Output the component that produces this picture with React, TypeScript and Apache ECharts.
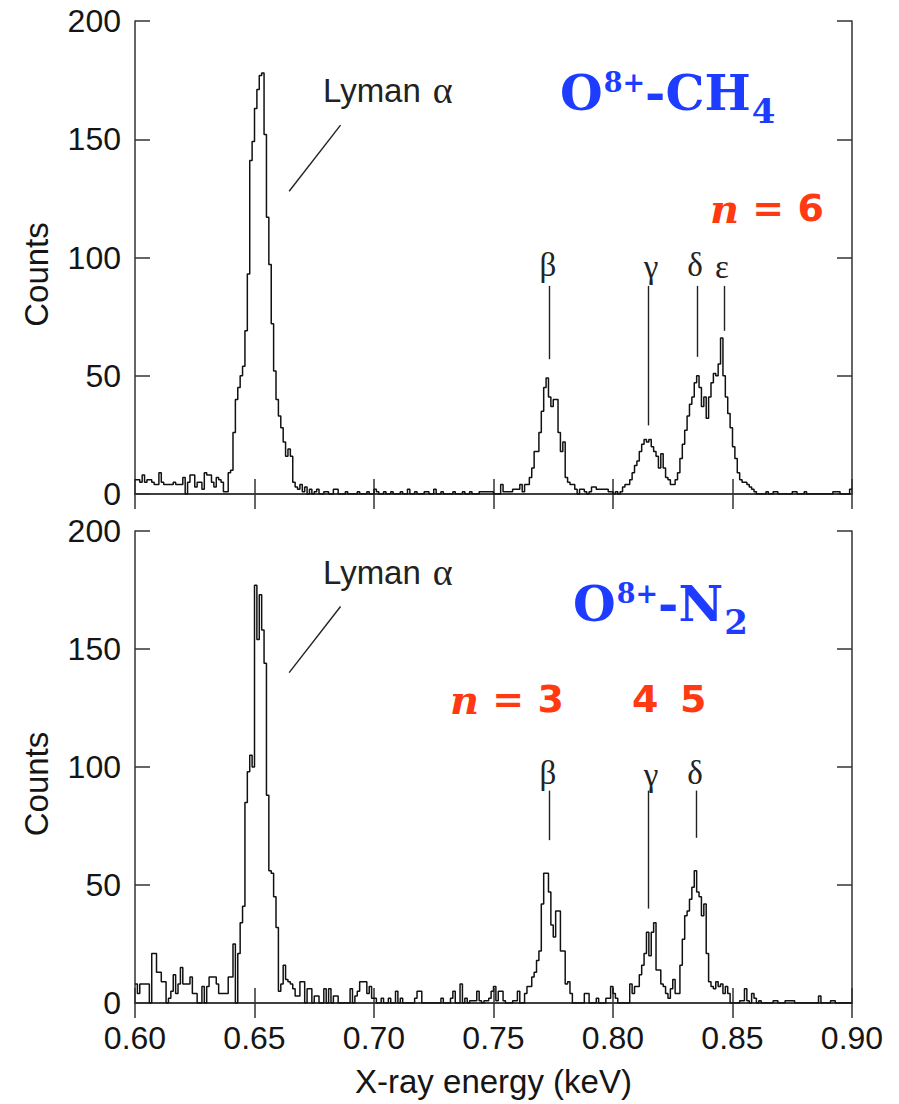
import React, { useEffect, useRef } from "react";
import * as echarts from "echarts";

// Histogram binning (keV)
const E_START = 0.6;
const BIN_WIDTH = 0.001;

// O8+ - CH4 counts per 1 eV bin, 0.600 ... 0.899 keV
const ch4Counts = [
  6, 6, 5, 8, 5, 6, 6, 5, 4, 4,
  9, 5, 4, 4, 4, 4, 5, 4, 4, 4,
  7, 0, 5, 8, 8, 3, 5, 5, 2, 9,
  8, 8, 5, 3, 7, 6, 5, 1, 1, 9,
  10, 26, 40, 45, 50, 54, 69, 93, 141, 149,
  163, 171, 177, 178, 152, 117, 97, 72, 52, 40,
  33, 28, 22, 16, 19, 16, 5, 3, 2, 4,
  1, 3, 0, 2, 0, 1, 2, 0, 0, 1,
  1, 0, 0, 2, 2, 0, 0, 0, 1, 0,
  0, 0, 0, 1, 0, 0, 0, 1, 0, 0,
  2, 1, 0, 0, 1, 0, 0, 1, 0, 0,
  0, 1, 0, 0, 2, 0, 0, 1, 0, 0,
  0, 1, 1, 0, 0, 2, 0, 0, 1, 0,
  0, 0, 0, 1, 0, 0, 0, 1, 0, 0,
  1, 0, 0, 0, 1, 1, 1, 1, 1, 1,
  0, 0, 0, 4, 1, 1, 1, 1, 2, 2,
  2, 4, 1, 4, 4, 7, 11, 18, 18, 26,
  35, 45, 49, 41, 37, 40, 40, 26, 18, 22,
  7, 5, 4, 4, 2, 0, 2, 2, 1, 0,
  1, 3, 3, 2, 2, 2, 2, 2, 1, 1,
  0, 1, 0, 1, 3, 4, 4, 6, 9, 12,
  14, 18, 21, 23, 22, 23, 20, 18, 16, 11,
  17, 11, 7, 6, 4, 4, 6, 9, 15, 21,
  27, 33, 38, 41, 47, 50, 45, 37, 41, 32,
  41, 47, 51, 50, 55, 66, 50, 41, 34, 28,
  20, 15, 9, 6, 5, 5, 4, 3, 2, 1,
  0, 0, 0, 0, 1, 0, 0, 1, 1, 0,
  0, 0, 0, 0, 0, 1, 1, 0, 0, 0,
  1, 0, 0, 0, 0, 0, 0, 0, 0, 0,
  0, 0, 1, 1, 1, 0, 0, 0, 0, 2,
];

// O8+ - N2 counts per 1 eV bin, 0.600 ... 0.899 keV
const n2Counts = [
  8, 4, 8, 8, 8, 8, 0, 21, 21, 13,
  13, 9, 9, 0, 2, 5, 12, 4, 8, 15,
  8, 8, 8, 11, 4, 4, 0, 0, 7, 0,
  7, 11, 11, 11, 8, 4, 4, 4, 4, 11,
  11, 25, 0, 21, 34, 41, 85, 98, 105, 100,
  177, 154, 173, 158, 144, 88, 56, 55, 45, 32,
  5, 8, 16, 10, 9, 8, 6, 3, 3, 9,
  9, 0, 6, 6, 0, 3, 3, 0, 0, 6,
  0, 6, 0, 3, 3, 0, 0, 0, 0, 0,
  6, 0, 3, 5, 9, 9, 9, 4, 7, 2,
  2, 0, 0, 2, 0, 0, 2, 0, 0, 5,
  0, 2, 0, 0, 0, 0, 0, 2, 5, 5,
  0, 0, 0, 0, 0, 0, 0, 0, 2, 0,
  0, 0, 2, 5, 0, 0, 8, 0, 2, 0,
  1, 1, 1, 5, 1, 0, 1, 1, 2, 5,
  7, 1, 5, 5, 1, 0, 0, 0, 1, 1,
  5, 0, 0, 4, 7, 7, 11, 13, 18, 22,
  42, 55, 55, 47, 33, 28, 39, 39, 22, 22,
  8, 9, 4, 0, 0, 0, 0, 0, 4, 4,
  0, 0, 0, 2, 0, 0, 0, 2, 2, 7,
  4, 2, 0, 0, 0, 0, 0, 8, 4, 7,
  7, 12, 16, 21, 30, 20, 30, 34, 14, 14,
  8, 7, 4, 2, 6, 10, 4, 4, 16, 27,
  37, 39, 44, 49, 56, 47, 45, 37, 42, 21,
  9, 7, 6, 9, 7, 8, 4, 7, 4, 0,
  0, 0, 0, 1, 1, 6, 1, 0, 4, 2,
  0, 1, 0, 0, 0, 0, 0, 1, 1, 0,
  0, 0, 1, 1, 1, 1, 0, 0, 0, 0,
  0, 0, 0, 0, 0, 0, 3, 0, 0, 0,
  0, 1, 1, 0, 0, 0, 0, 0, 0, 0,
];

// Axis ranges
const X_MIN = 0.6;
const X_MAX = 0.9;
const X_INTERVAL = 0.05;
const Y_MIN = 0;
const Y_MAX = 200;
const Y_INTERVAL = 50;

// Annotation pointer lines, in data coordinates [[x1, y1], [x2, y2]]
const ch4Pointers = [
  [[0.6645, 128], [0.686, 156]], // Lyman alpha
  [[0.7732, 57], [0.7732, 88]], // beta
  [[0.8148, 29], [0.8148, 88]], // gamma
  [[0.8352, 58], [0.8352, 88]], // delta
  [[0.8466, 69], [0.8466, 88]], // epsilon
];
const n2Pointers = [
  [[0.6645, 140], [0.686, 168]],
  [[0.7732, 69], [0.7732, 90]],
  [[0.8148, 40], [0.8148, 90]],
  [[0.835, 70], [0.835, 90]],
];

const SANS = "'Liberation Sans', Arial, Helvetica, sans-serif";
const SERIF = "'Liberation Serif', 'Times New Roman', serif";
const BLUE = "#1d3cff";
const RED = "#ff3a12";
const INK = "#151515";
const AXIS = { color: "#333", width: 1.5 };

function histogram(counts: number[]) {
  const pts = counts.map((c, i) => [+(E_START + i * BIN_WIDTH).toFixed(4), c]);
  pts.push([+(E_START + counts.length * BIN_WIDTH).toFixed(4), counts[counts.length - 1]]);
  return pts;
}

function xAxis(gridIndex: number, position: "top" | "bottom", labels: boolean, name?: string) {
  return {
    type: "value",
    gridIndex,
    position,
    min: X_MIN,
    max: X_MAX,
    interval: X_INTERVAL,
    axisLine: { show: true, lineStyle: AXIS },
    axisTick: { show: true, inside: true, length: 15, lineStyle: AXIS },
    splitLine: { show: false },
    axisLabel: {
      show: labels,
      formatter: (v: number) => v.toFixed(2),
      fontFamily: SANS,
      fontSize: 32,
      color: INK,
      margin: 19,
    },
    name,
    nameLocation: "middle",
    nameGap: 62,
    nameTextStyle: { fontFamily: SANS, fontSize: 33, color: INK },
  };
}

function yAxis(gridIndex: number, position: "left" | "right", labels: boolean) {
  return {
    type: "value",
    gridIndex,
    position,
    min: Y_MIN,
    max: Y_MAX,
    interval: Y_INTERVAL,
    axisLine: { show: true, lineStyle: AXIS },
    axisTick: { show: true, inside: true, length: 15, lineStyle: AXIS },
    splitLine: { show: false },
    axisLabel: {
      show: labels,
      fontFamily: SANS,
      fontSize: 32,
      color: INK,
      margin: 14,
    },
    name: labels ? "Counts" : undefined,
    nameLocation: "middle",
    nameGap: 82,
    nameRotate: 90,
    nameTextStyle: { fontFamily: SANS, fontSize: 33, color: INK, padding: [0, 34, 0, 0] },
  };
}

function pointerLines(pointers: number[][][]) {
  return {
    silent: true,
    symbol: ["none", "none"],
    label: { show: false },
    lineStyle: { color: "#222", width: 1.4, type: "solid" },
    emphasis: { disabled: true },
    data: pointers.map(([a, b]) => [{ coord: a }, { coord: b }]),
  };
}

function histSeries(counts: number[], xi: number, yi: number, pointers: number[][][]) {
  return {
    type: "line",
    xAxisIndex: xi,
    yAxisIndex: yi,
    step: "end",
    symbol: "none",
    data: histogram(counts),
    lineStyle: { color: "#111", width: 1.5 },
    emphasis: { disabled: true },
    markLine: pointerLines(pointers),
  };
}

function greek(text: string, x: number, y: number) {
  return {
    type: "text",
    x,
    y,
    style: { text, fontFamily: SERIF, fontSize: 33, fill: "#222", align: "center", verticalAlign: "middle" },
  };
}

function lyman(y: number) {
  return {
    type: "text",
    x: 323,
    y,
    style: {
      text: "{a|Lyman}{g|α}",
      verticalAlign: "middle",
      rich: {
        a: { fontFamily: SANS, fontSize: 33, fill: "#222", color: "#222" },
        g: { fontFamily: SERIF, fontSize: 38, fill: "#222", color: "#222", padding: [0, 0, 0, 12] },
      },
    },
  };
}

function title(main: string, sub: string, x: number, y: number) {
  const base = { fontFamily: "'DejaVu Serif', serif", fontWeight: "bold", fill: BLUE, color: BLUE };
  return {
    type: "text",
    x,
    y,
    style: {
      text: `{m|O}{sup|8+}{m|-${main}}{sub|${sub}}`,
      verticalAlign: "middle",
      rich: {
        m: { ...base, fontSize: 49 },
        sup: { ...base, fontSize: 27, padding: [0, 0, 22, 1] },
        sub: { ...base, fontSize: 34, padding: [36, 0, 0, 1] },
      },
    },
  };
}

function redText(text: string, x: number, y: number) {
  return {
    type: "text",
    x,
    y,
    style: {
      text,
      verticalAlign: "middle",
      rich: {
        i: { fontFamily: "'DejaVu Serif', serif", fontStyle: "italic", fontWeight: "bold", fontSize: 40, fill: RED, color: RED },
        b: { fontFamily: "'DejaVu Sans', sans-serif", fontWeight: "bold", fontSize: 38, fill: RED, color: RED },
      },
    },
  };
}

const option = {
  animation: false,
  backgroundColor: "#ffffff",
  grid: [
    { left: 135, top: 21, width: 717, height: 473 },
    { left: 135, top: 531, width: 717, height: 472 },
  ],
  xAxis: [
    xAxis(0, "bottom", false),
    xAxis(0, "top", false),
    xAxis(1, "bottom", true, "X-ray energy (keV)"),
    xAxis(1, "top", false),
  ],
  yAxis: [yAxis(0, "left", true), yAxis(0, "right", false), yAxis(1, "left", true), yAxis(1, "right", false)],
  series: [histSeries(ch4Counts, 0, 0, ch4Pointers), histSeries(n2Counts, 2, 2, n2Pointers)],
  graphic: [
    lyman(90),
    lyman(572),
    title("CH", "4", 560, 93),
    title("N", "2", 573, 604),
    greek("β", 548, 265),
    greek("γ", 651, 267),
    greek("δ", 695, 265),
    greek("ε", 722, 267),
    greek("β", 548, 773),
    greek("γ", 651, 775),
    greek("δ", 695, 773),
    redText("{i|n}{b| = 6}", 710, 208),
    redText("{i|n}{b| = 3}", 450, 699),
    redText("{b|4}", 632, 699),
    redText("{b|5}", 680, 699),
  ],
};

export default function App() {
  const ref = useRef<HTMLDivElement>(null);
  useEffect(() => {
    document.body.style.margin = "0";
    const chart = echarts.init(ref.current!, null, { renderer: "svg" });
    chart.setOption(option as any);
    return () => chart.dispose();
  }, []);
  return <div ref={ref} style={{ width: 899, height: 1104 }} />;
}
